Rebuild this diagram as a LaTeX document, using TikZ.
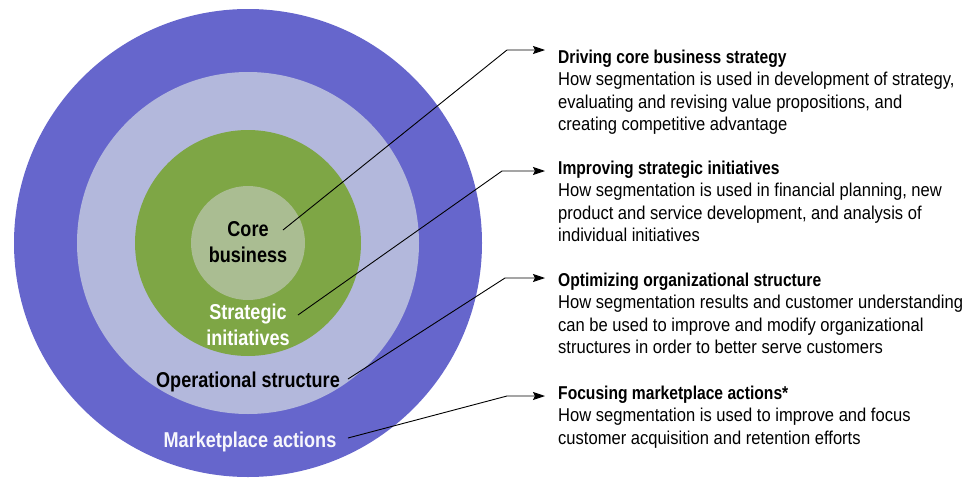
\documentclass[tikz,border=0pt]{standalone}
\usepackage{fontspec}
\setmainfont{Liberation Sans}
\newfontfamily\bodyfont{Liberation Sans}[FakeStretch=0.89]
\newfontfamily\headfont{Liberation Sans}[FakeStretch=0.84]
\usetikzlibrary{arrows.meta}
\definecolor{outerc}{HTML}{6666CC}
\definecolor{opc}{HTML}{B3B8DC}
\definecolor{stratc}{HTML}{7EA645}
\definecolor{corec}{HTML}{AABD92}
\tikzset{
  ring/.style={circle, inner sep=0pt, draw=none},
  lab/.style={font=\headfont\bfseries\fontsize{21.5}{26}\selectfont, align=center, inner sep=0pt, anchor=north},
  desc/.style={font=\bodyfont\fontsize{18.6}{22.5}\selectfont, align=left, inner sep=0pt, anchor=north west},
  conn/.style={line width=0.9pt, -{Stealth[length=12pt,width=8pt,inset=2pt]}, shorten >=13pt},
}
\newcommand{\hd}[1]{{\headfont\bfseries #1}}
\begin{document}
\begin{tikzpicture}[x=1pt,y=-1pt]
\useasboundingbox (0,0) rectangle (978,477);
\node[ring, fill=outerc, minimum size=468pt] (outer) at (248,243) {};
\node[ring, fill=opc, minimum size=342pt] (oper) at (248,243) {};
\node[ring, fill=stratc, minimum size=226pt] (strat) at (248,243) {};
\node[ring, fill=corec, minimum size=114pt] (core) at (248,243) {};

\node[lab, text=black] (lcore) at (248,221.5) {Core\\business};
\node[lab, text=white] (lstrat) at (248,304) {Strategic\\initiatives};
\node[lab, text=black] (loper) at (248,371.3) {Operational structure};
\node[lab, text=white!95!outerc] (lmkt) at (250,431.8) {Marketplace actions};

\node[desc] (d1) at (558,49.5) {\hd{Driving core business strategy}\\How segmentation is used in development of strategy,\\evaluating and revising value propositions, and\\creating competitive advantage};
\node[desc] (d2) at (558,160.5) {\hd{Improving strategic initiatives}\\How segmentation is used in financial planning, new\\product and service development, and analysis of\\individual initiatives};
\node[desc] (d3) at (558,272.5) {\hd{Optimizing organizational structure}\\How segmentation results and customer understanding\\can be used to improve and modify organizational\\structures in order to better serve customers};
\node[desc] (d4) at (558,385.5) {\hd{Focusing marketplace actions*}\\How segmentation is used to improve and focus\\customer acquisition and retention efforts};

\coordinate (s1) at (283,230); \coordinate (k1) at (507,50);
\coordinate (s2) at (298,315); \coordinate (k2) at (502,171);
\coordinate (s3) at (348,379); \coordinate (k3) at (505,278);
\coordinate (s4) at (348,438); \coordinate (k4) at (507,396);
\draw[conn] (s1) -- (k1) -- (k1 -| d1.west);
\draw[conn] (s2) -- (k2) -- (k2 -| d2.west);
\draw[conn] (s3) -- (k3) -- (k3 -| d3.west);
\draw[conn] (s4) -- (k4) -- (k4 -| d4.west);
\end{tikzpicture}
\end{document}
